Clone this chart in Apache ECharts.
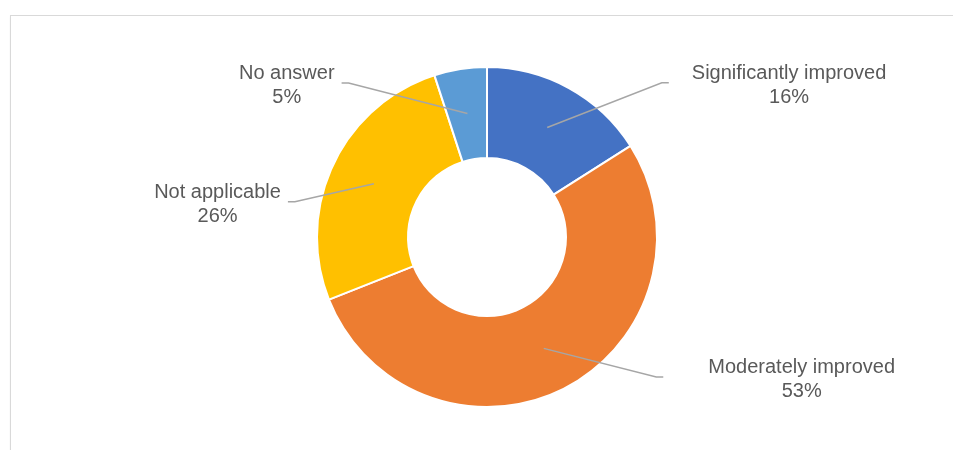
<!DOCTYPE html>
<html>
<head>
<meta charset="utf-8">
<script src="https://cdn.jsdelivr.net/npm/echarts@6/dist/echarts.min.js"></script>
<style>
html,body{margin:0;padding:0;background:#fff;}
#frame{position:absolute;left:10px;top:15px;width:960px;height:460px;border-left:1.5px solid #d9d9d9;border-top:1.5px solid #d9d9d9;box-shadow:0 1px 2px rgba(0,0,0,0.05);}
#chart{position:absolute;left:0;top:0;width:953px;height:450px;}
</style>
</head>
<body>
<div id="frame"></div>
<div id="chart"></div>
<script>
// Data
var categories = ['Significantly improved', 'Moderately improved', 'Not applicable', 'No answer'];
var values = [16, 53, 26, 5];
var colors = ['#4472C4', '#ED7D31', '#FFC000', '#5B9BD5'];

// Label leader-line styling per slice (layout only)
var lineLen = [51, 32, 0, 31];
var lineLen2 = [97, 105, 86, 121];
var labelGap = [23, 45, 7, 7];
var labelShiftY = [0, 0, 18, 0];
var textNudgeY = 3;

var chart = echarts.init(document.getElementById('chart'), null, {renderer: 'canvas'});

var ringData = categories.map(function (c, i) {
  return {name: c, value: values[i], itemStyle: {color: colors[i]}};
});
var labelData = categories.map(function (c, i) {
  return {
    name: c, value: values[i],
    labelLine: {length: lineLen[i], length2: lineLen2[i]},
    label: {distanceToLabelLine: labelGap[i]}
  };
});

var option = {
  animation: false,
  series: [
    {
      type: 'pie',
      center: [487, 237],
      radius: [79, 170],
      startAngle: 90,
      clockwise: true,
      silent: true,
      avoidLabelOverlap: false,
      label: {show: false},
      labelLine: {show: false},
      itemStyle: {borderColor: '#ffffff', borderWidth: 2},
      data: ringData,
      z: 1
    },
    {
      type: 'pie',
      center: [487, 237],
      radius: [0, 125],
      startAngle: 90,
      clockwise: true,
      silent: true,
      avoidLabelOverlap: false,
      z: 5,
      itemStyle: {color: 'rgba(0,0,0,0)', borderWidth: 0},
      label: {
        show: true,
        position: 'outside',
        formatter: '{t|{b}}\n{t|{c}%}',
        rich: {
          t: {
            fontFamily: 'Liberation Sans, Arial, sans-serif',
            fontSize: 20,
            lineHeight: 24,
            color: '#595959',
            align: 'center'
          }
        }
      },
      labelLine: {
        show: true,
        smooth: false,
        lineStyle: {color: '#A6A6A6', width: 1.5}
      },
      labelLayout: function (params) {
        var pts = params.labelLinePoints;
        if (!pts || pts.length < 3) return {};
        var sy = labelShiftY[params.dataIndex] || 0;
        var s = pts[2][0] >= pts[1][0] ? 1 : -1;
        var end = [pts[2][0], pts[2][1] + sy];
        return {
          dy: sy + textNudgeY,
          labelLinePoints: [
            pts[0],
            [end[0] - s * 7, end[1]],
            end
          ]
        };
      },
      data: labelData
    }
  ]
};
chart.setOption(option);
</script>
</body>
</html>
